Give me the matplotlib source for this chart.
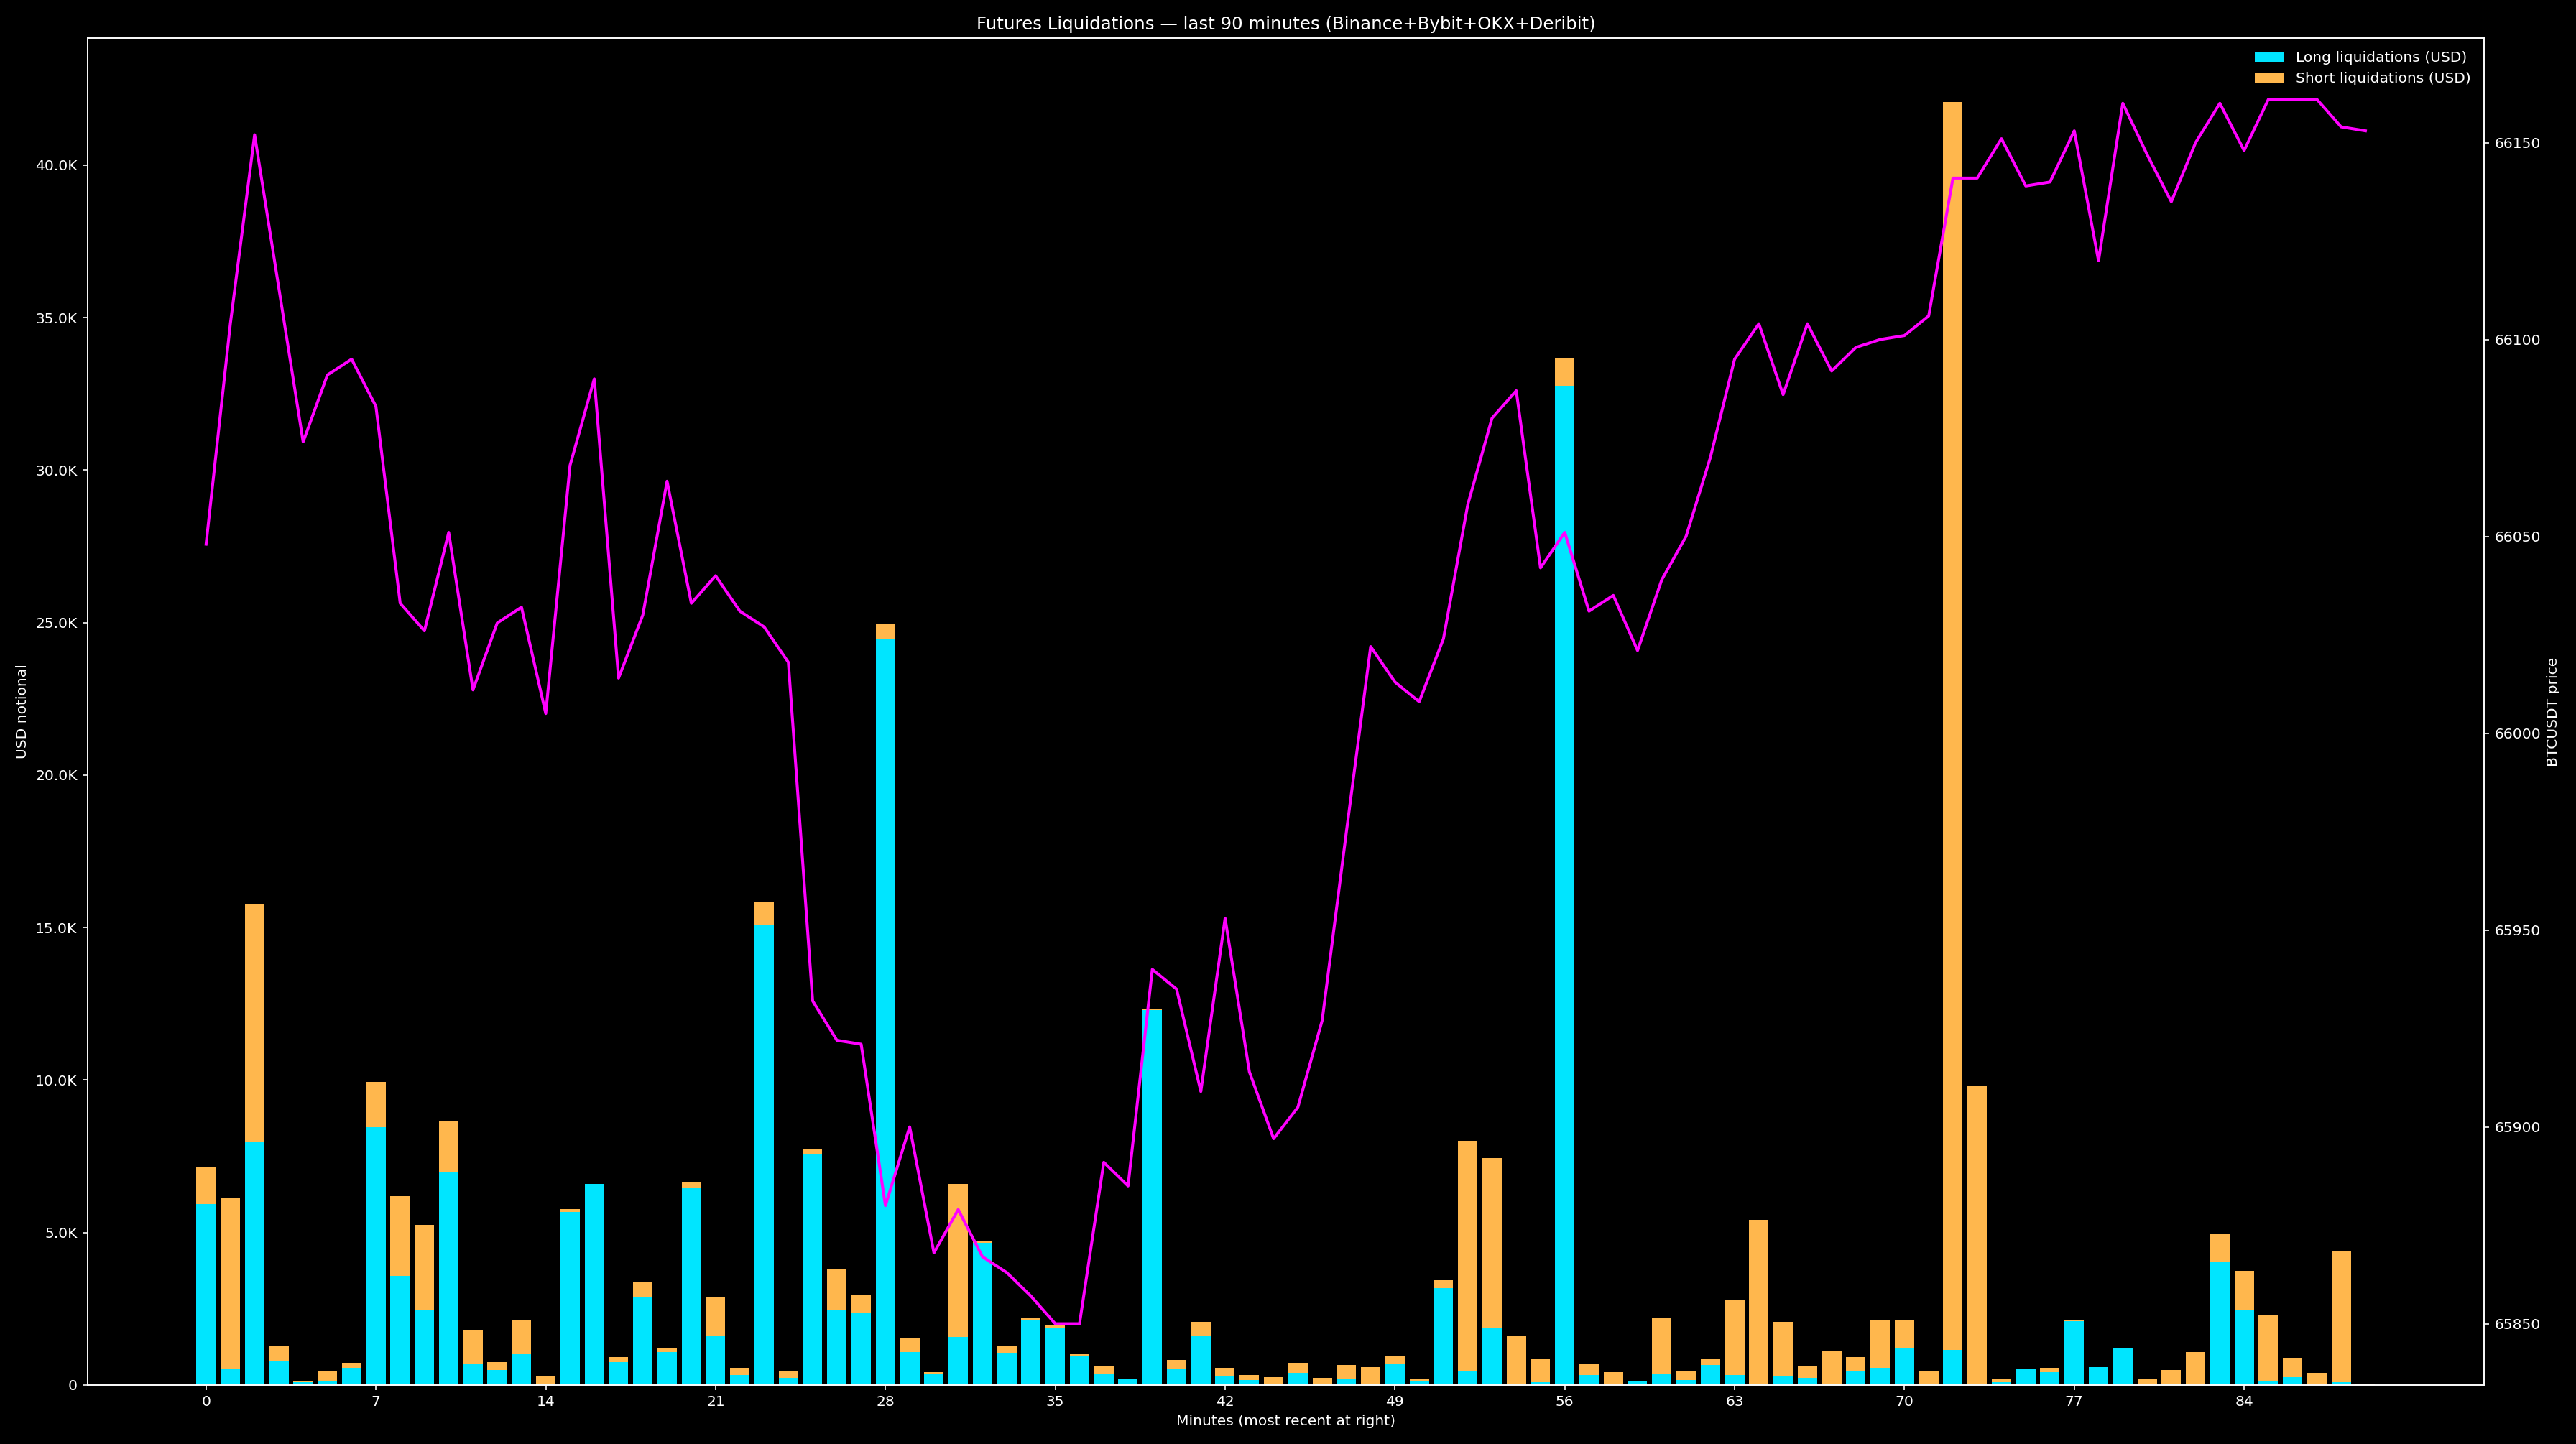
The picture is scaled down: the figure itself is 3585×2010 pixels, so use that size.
import numpy as np
import matplotlib
matplotlib.use("Agg")
import matplotlib.pyplot as plt
from matplotlib.ticker import FuncFormatter

# Liquidations per minute (USD), oldest at left.
long_usd = [5920, 520, 7980, 790, 90, 120, 550, 8450, 3580, 2460,
            7000, 680, 490, 1010, 20, 5680, 6580, 740, 2860, 1090,
            6440, 1630, 330, 15080, 230, 7580, 2480, 2340, 24470, 1090,
            360, 1570, 4650, 1030, 2110, 1850, 970, 370, 190, 12300,
            510, 1630, 300, 160, 40, 400, 30, 210, 20, 700,
            140, 3180, 440, 1850, 20, 90, 32770, 330, 0, 140,
            380, 170, 650, 330, 40, 300, 230, 40, 460, 550,
            1230, 20, 1150, 20, 90, 530, 420, 2100, 590, 1190,
            0, 20, 0, 4040, 2460, 140, 250, 0, 90, 0]

short_usd = [1220, 5590, 7800, 500, 50, 320, 170, 1480, 2620, 2780,
             1660, 1120, 250, 1110, 250, 80, 20, 170, 510, 100,
             230, 1270, 220, 760, 230, 150, 1310, 630, 490, 430,
             60, 5010, 60, 260, 110, 120, 30, 260, 0, 20,
             310, 430, 250, 160, 210, 320, 200, 440, 560, 250,
             40, 260, 7570, 5600, 1610, 770, 880, 370, 420, 0,
             1800, 290, 210, 2470, 5370, 1760, 380, 1080, 450, 1570,
             920, 440, 40910, 9770, 120, 0, 130, 20, 0, 20,
             210, 470, 1080, 920, 1280, 2150, 640, 400, 4310, 40]

# BTCUSDT close per minute.
price = [66048, 66104, 66152, 66113, 66074, 66091, 66095, 66083, 66033, 66026,
         66051, 66011, 66028, 66032, 66005, 66068, 66090, 66014, 66030, 66064,
         66033, 66040, 66031, 66027, 66018, 65932, 65922, 65921, 65880, 65900,
         65868, 65879, 65867, 65863, 65857, 65850, 65850, 65891, 65885, 65940,
         65935, 65909, 65953, 65914, 65897, 65905, 65927, 65975, 66022, 66013,
         66008, 66024, 66058, 66080, 66087, 66042, 66051, 66031, 66035, 66021,
         66039, 66050, 66070, 66095, 66104, 66086, 66104, 66092, 66098, 66100,
         66101, 66106, 66141, 66141, 66151, 66139, 66140, 66153, 66120, 66160,
         66147, 66135, 66150, 66160, 66148, 66161, 66161, 66161, 66154, 66153]

plt.style.use("dark_background")

DPI = 146
fig, ax = plt.subplots(figsize=(3585 / DPI, 2010 / DPI), dpi=DPI)

x = np.arange(len(long_usd))
ax.bar(x, long_usd, width=0.8, color="#00E5FF", label="Long liquidations (USD)")
ax.bar(x, short_usd, width=0.8, bottom=long_usd, color="#FFB74D",
       label="Short liquidations (USD)")

def k_fmt(v, pos):
    if abs(v) >= 1000:
        return f"{v / 1000:.1f}K"
    return f"{v:.0f}"

ax.yaxis.set_major_formatter(FuncFormatter(k_fmt))
ax.set_xticks(range(0, len(x), len(x) // 12))
ax.set_xlabel("Minutes (most recent at right)")
ax.set_ylabel("USD notional")
ax.set_title("Futures Liquidations \u2014 last 90 minutes (Binance+Bybit+OKX+Deribit)")
ax.legend(loc="upper right", frameon=False)

ax2 = ax.twinx()
ax2.plot(x, price, color="#FF00FF", linewidth=2.0)
ax2.ticklabel_format(useOffset=False, style="plain", axis="y")
ax2.set_ylabel("BTCUSDT price")

fig.tight_layout()
fig.savefig("out.png", dpi=DPI, facecolor="black")
